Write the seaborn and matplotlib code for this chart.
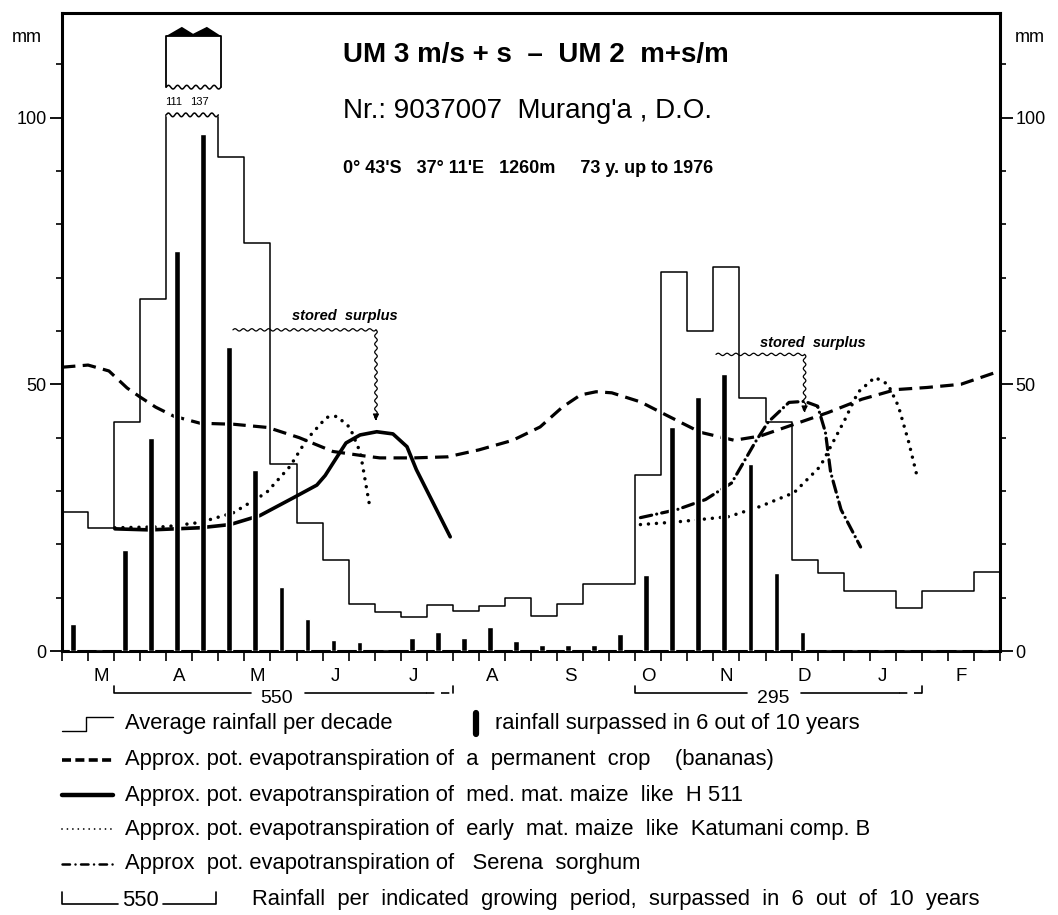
import numpy as np
import pandas as pd
import matplotlib
matplotlib.use("Agg")
import matplotlib.pyplot as plt
from matplotlib.lines import Line2D
import seaborn as sns

# ---- data ----
months = ['M', 'A', 'M', 'J', 'J', 'A', 'S', 'O', 'N', 'D', 'J', 'F']

# average rainfall per decade (mm), 36 decades Mar..Feb
rain_avg = [26, 23, 43, 66, 111, 137, 92.6, 76.5, 35, 24, 17, 8.8,
            7.3, 6.3, 8.6, 7.5, 8.5, 10, 6.5, 8.8, 12.6, 12.6, 33, 71,
            60, 72, 47.5, 43, 17, 14.6, 11.3, 11.3, 8, 11.3, 11.3, 14.8]

# rainfall surpassed in 6 out of 10 years (mm)
rain_60 = [5, 0, 19, 40, 75, 97, 57, 34, 12, 6, 2, 1.7,
           0, 2.4, 3.6, 2.4, 4.5, 1.9, 1.1, 1.1, 1.2, 3.2, 14.3, 42,
           47.7, 52, 35, 14.7, 3.6, 0, 0, 0, 0, 0, 0, 0]

# pot. evapotranspiration curves (x in decades from 1 March, y in mm)
banana_x = [0, 1.0, 1.8, 2.5, 3.0, 3.6, 4.3, 5.3, 6.6, 7.9, 9.1, 10.4, 11.7, 12.2,
            13.5, 14.8, 16.0, 17.3, 18.35, 19.2, 19.9, 20.5, 21.1, 22.2, 23.2,
            24.5, 25.8, 26.8, 28.1, 29.4, 30.7, 32.0, 33.2, 34.5, 36.0]
banana_y = [53.2, 53.6, 52.5, 49.3, 47.6, 45.7, 44.0, 42.7, 42.5, 41.9, 40.0, 37.4, 36.5, 36.2,
            36.2, 36.4, 37.7, 39.5, 42.0, 45.7, 48.0, 48.6, 48.4, 46.7, 44.2,
            41.0, 39.5, 40.3, 42.5, 44.7, 47.2, 49.0, 49.4, 50.0, 52.5]

h511_x = [2.03, 3.38, 5.3, 6.45, 7.6, 8.87, 9.78, 10.1, 10.4, 10.9, 11.44, 12.08, 12.7,
          13.24, 13.6, 14.25, 14.9]
h511_y = [22.9, 22.7, 23.1, 23.7, 25.4, 28.7, 31.1, 32.9, 35.2, 39.0, 40.5, 41.1, 40.7,
          38.3, 34.0, 27.7, 21.4]

katu1_x = [2.03, 4.0, 5.3, 6.57, 7.85, 8.75, 9.4, 10.15, 10.55, 11.05, 11.45, 11.8]
katu1_y = [23.1, 23.3, 24.1, 25.9, 29.7, 34.6, 39.7, 43.8, 44.0, 41.9, 37.2, 27.4]

katu2_x = [22.2, 23.6, 25.6, 26.8, 28.1, 29.1, 30.05, 30.55, 31.2, 31.7, 32.1, 32.5, 32.85]
katu2_y = [23.7, 24.2, 25.2, 27.1, 29.7, 34.6, 43.4, 48.5, 51.3, 50.0, 45.9, 39.1, 32.1]

sorghum_x = [22.2, 23.6, 24.7, 25.7, 26.6, 27.1, 27.9, 28.5, 29.0, 29.3, 29.5, 29.9, 30.65]
sorghum_y = [25.0, 26.5, 28.4, 31.5, 39.1, 42.9, 46.6, 46.8, 45.9, 41.0, 33.5, 26.5, 19.5]

# rainfall per growing period (6 out of 10 years)
periods = [550, 295]
period_start = [2, 22]
period_end = [15, 33]

W, H = 1058, 915


def fx(px):
    return px / W


def fy(py):
    return 1 - py / H


def wavy(x0, y0, x1, y1, n, amp):
    t = np.linspace(0, 1, n * 12 + 1)
    xs = x0 + (x1 - x0) * t
    ys = y0 + (y1 - y0) * t
    w = amp * np.sin(2 * np.pi * n * t)
    if abs(x1 - x0) > 0:
        ys = ys + w
    else:
        xs = xs + w
    return xs, ys


sns.set_style("ticks")
plt.rcParams['font.family'] = ['Liberation Sans', 'DejaVu Sans']
plt.rcParams.update({'text.color': 'black', 'xtick.color': 'black',
                     'ytick.color': 'black', 'axes.labelcolor': 'black'})

fig = plt.figure(figsize=(W / 100, H / 100), dpi=100)
ax = fig.add_axes([fx(62), fy(651), fx(1000) - fx(62), fy(13) - fy(651)])

cap = 100.5
edges = np.arange(37)
step_vals = [min(v, cap) for v in rain_avg] + [min(rain_avg[-1], cap)]
df_step = pd.DataFrame({'x': edges, 'y': step_vals})
sns.lineplot(data=df_step, x='x', y='y', drawstyle='steps-post', color='black',
             lw=1.1, estimator=None, ax=ax)

# broken top of the tall decades
big = [i for i, v in enumerate(rain_avg) if v > cap]
bx0, bx1 = big[0], big[-1] + 1
ax.plot([bx0 + 0.05, bx1 - 0.05], [cap, cap], color='white', lw=3, zorder=3)
xs, ys = wavy(bx0, cap, bx1, cap, 6, 0.35)
ax.plot(xs, ys, color='black', lw=1.1, zorder=4)

# inset box with the true values
box_lo, box_hi = 105.7, 115.3
xs, ys = wavy(bx0, box_lo, bx1 + 0.1, box_lo, 6, 0.35)
ax.plot(xs, ys, color='black', lw=1.1, clip_on=False)
ax.plot([bx0, bx0, bx1 + 0.1, bx1 + 0.1], [box_lo, box_hi, box_hi, box_lo],
        color='black', lw=1.3, clip_on=False)
ax.fill([bx0, bx0 + 0.6, bx0 + 1.03, bx0 + 1.56, bx1 + 0.1],
        [box_hi, 117.0, 115.7, 117.0, box_hi], color='black', lw=0, clip_on=False)
for k, i in enumerate(big):
    ax.text(i + 0.3 - 0.04 * k, 102.9, f"{rain_avg[i]:.0f}", fontsize=8,
            ha='center', va='center')

# 6 out of 10 years bars
ax.bar(np.arange(36) + 0.42, rain_60, width=0.22, color='black', zorder=3)

# evapotranspiration curves
sns.lineplot(x=banana_x, y=banana_y, sort=False, estimator=None, color='black',
             lw=2.3, linestyle=(0, (4.2, 2.3)), ax=ax)
sns.lineplot(x=h511_x, y=h511_y, sort=False, estimator=None, color='black',
             lw=2.6, ax=ax)
sns.lineplot(x=katu1_x, y=katu1_y, sort=False, estimator=None, color='black',
             lw=2.5, linestyle=(0, (0.01, 2.3)), dash_capstyle='round', ax=ax)
sns.lineplot(x=katu2_x, y=katu2_y, sort=False, estimator=None, color='black',
             lw=2.5, linestyle=(0, (0.01, 2.3)), dash_capstyle='round', ax=ax)
sns.lineplot(x=sorghum_x, y=sorghum_y, sort=False, estimator=None, color='black',
             lw=2.3, linestyle=(0, (3.6, 1.6, 0.01, 1.6)), dash_capstyle='round', ax=ax)

# stored surplus annotations
for (x0, x1, ytop, ybot, tx, ty) in [(6.56, 12.05, 60.2, 43.5, 10.86, 62.8),
                                       (25.1, 28.5, 55.6, 45.0, 28.8, 57.7)]:
    xs, ys = wavy(x0, ytop, x1, ytop, int((x1 - x0) / 0.31), 0.22)
    ax.plot(xs, ys, color='black', lw=0.9)
    xs, ys = wavy(x1, ytop, x1, ybot, int((ytop - ybot) / 1.5), 0.05)
    ax.plot(xs, ys, color='black', lw=0.9)
    ax.annotate('', xy=(x1, ybot - 0.8), xytext=(x1, ybot + 0.5),
                arrowprops=dict(arrowstyle='-|>', color='black', lw=0.9,
                                mutation_scale=9))
    ax.text(tx, ty, 'stored  surplus', fontsize=10.5, style='italic',
            fontweight='bold', ha='center', va='center')

# titles
ax.text(10.8, 111.7, "UM 3 m/s + s  \u2013  UM 2  m+s/m", fontsize=20,
        fontweight='bold', va='center')
ax.text(10.8, 101.2, "Nr.: 9037007  Murang'a , D.O.", fontsize=20, va='center')
ax.text(10.8, 90.5, "0\u00b0 43'S   37\u00b0 11'E   1260m     73 y. up to 1976",
        fontsize=13, fontweight='bold', va='center')

# axes styling
ax.set_xlim(0, 36)
ax.set_ylim(0, 119.6)
ax.set_xlabel('')
ax.set_ylabel('')
ax.set_xticks(np.arange(37))
ax.set_xticklabels([])
ax.set_xticks(np.arange(12) * 3 + 1.5, minor=True)
ax.set_xticklabels(months, minor=True, fontsize=13.5)
ax.tick_params(axis='x', which='major', direction='out', length=7, width=1.2)
ax.tick_params(axis='x', which='minor', length=0, pad=12)
ax.set_yticks([0, 50, 100])
ax.set_yticks(np.arange(10, 120, 10), minor=True)
ax.tick_params(axis='y', which='both', left=True, right=True, labelleft=True,
               labelright=True, direction='out', labelsize=13)
ax.tick_params(axis='y', which='major', length=9, width=1.3, pad=2)
ax.tick_params(axis='y', which='minor', length=4, width=1.2)
for s in ax.spines.values():
    s.set_visible(True)
    s.set_linewidth(2.2)
    s.set_color('black')

fig.text(fx(12), fy(37), 'mm', fontsize=13, va='center')
fig.text(fx(1015), fy(37), 'mm', fontsize=13, va='center')

# growing period brackets below the axis
tr = ax.get_xaxis_transform()
yb, yt = -0.066, -0.055
for val, x0, x1 in zip(periods, period_start, period_end):
    span = x1 - x0
    xm = x0 + span * 0.48
    ax.plot([x0, x0, xm - 1.0], [yt, yb, yb], color='black', lw=1.2,
            transform=tr, clip_on=False)
    ax.plot([xm + 1.1, x1 - span * 0.08], [yb, yb], color='black', lw=1.2,
            transform=tr, clip_on=False)
    ax.plot([x1 - span * 0.08, x1], [yb, yb], color='black', lw=1.2,
            linestyle=(0, (5, 4)), transform=tr, clip_on=False)
    ax.plot([x1, x1], [yb, yt], color='black', lw=1.2, transform=tr, clip_on=False)
    ax.text(xm, yb - 0.008, str(val), fontsize=14, ha='center', va='center',
            transform=tr)


# ---- legend drawn below the chart ----
def fig_line(xs, ys, **kw):
    fig.add_artist(Line2D([fx(v) for v in xs], [fy(v) for v in ys],
                          transform=fig.transFigure, color='black', **kw))


lfs = 15.8
rows = [724, 760, 795, 829, 864, 900]
texts = ["Average rainfall per decade",
         "Approx. pot. evapotranspiration of  a  permanent  crop    (bananas)",
         "Approx. pot. evapotranspiration of  med. mat. maize  like  H 511",
         "Approx. pot. evapotranspiration of  early  mat. maize  like  Katumani comp. B",
         "Approx  pot. evapotranspiration of   Serena  sorghum"]
for r, t in zip(rows[:5], texts):
    fig.text(fx(125), fy(r), t, fontsize=lfs, va='center')

r = rows[0]
fig_line([62, 86, 86, 113], [r + 7, r + 7, r - 7, r - 7], lw=1.0)
fig_line([476, 476], [r - 11, r + 10], lw=4.5, solid_capstyle='round')
fig.text(fx(495), fy(r), "rainfall surpassed in 6 out of 10 years", fontsize=lfs, va='center')
fig_line([62, 113], [rows[1], rows[1]], lw=2.6, linestyle=(0, (2.5, 1.2)))
fig_line([62, 113], [rows[2], rows[2]], lw=3.2)
fig_line([62, 113], [rows[3], rows[3]], lw=1.3, linestyle=(0, (0.01, 3.0)),
         dash_capstyle='round')
fig_line([62, 113], [rows[4], rows[4]], lw=1.8, linestyle=(0, (3, 2.2, 0.01, 2.2)),
         dash_capstyle='round')
r = rows[5]
fig_line([62, 62, 118], [r - 8, r + 4, r + 4], lw=1.2)
fig_line([163, 216, 216], [r + 4, r + 4, r - 8], lw=1.2)
fig.text(fx(140), fy(r + 1), "550", fontsize=lfs, ha='center', va='center')
fig.text(fx(252), fy(r), "Rainfall  per  indicated  growing  period,  surpassed  in  6  out  of  10  years",
         fontsize=lfs, va='center')

fig.savefig('out.png', dpi=100)
